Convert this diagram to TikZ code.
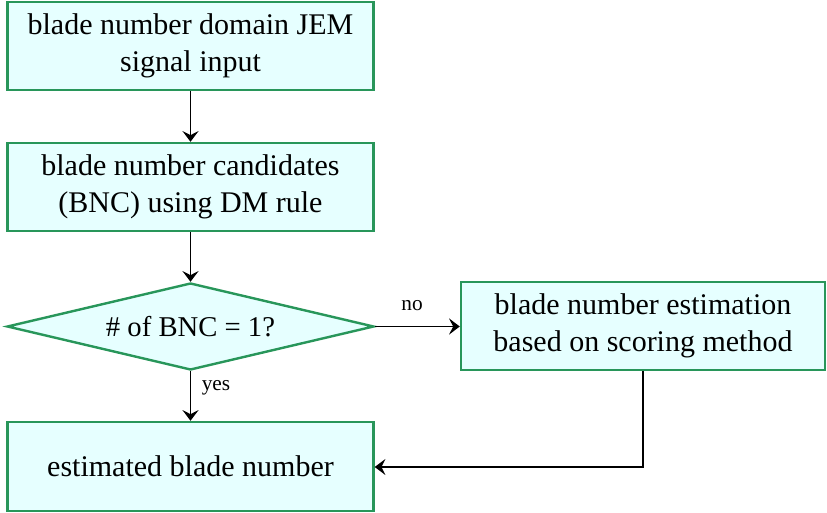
\documentclass[tikz,border=0pt]{standalone}
\usepackage{fontspec}
\setmainfont{Liberation Serif}
\usetikzlibrary{shapes.geometric,arrows.meta}
\definecolor{boxgreen}{RGB}{40,150,90}
\definecolor{boxfill}{RGB}{230,255,255}
\tikzset{
  stepbox/.style={draw=boxgreen, line width=1.8pt, fill=boxfill, rectangle, inner sep=0pt,
    minimum width=366*0.75pt, minimum height=88*0.75pt, align=center,
    font=\fontsize{22.5}{27.75}\selectfont},
  decbox/.style={draw=boxgreen, line width=1.8pt, fill=boxfill, diamond, aspect=4.2, inner sep=0pt,
    minimum width=367*0.75pt, minimum height=87*0.75pt, align=center,
    font=\fontsize{21.5}{27.75}\selectfont},
  conn/.style={draw=black, line width=1.1pt, -{Stealth[length=8pt,width=12pt,inset=3pt]}},
  lbl/.style={font=\fontsize{16}{18}\selectfont, inner sep=0pt}
}
\begin{document}
\begin{tikzpicture}[x=0.75pt,y=-0.75pt]
\useasboundingbox (0,0) rectangle (827,513);
\node[stepbox] (b1) at (190.5,46) {blade number domain JEM\\signal input};
\node[stepbox] (b2) at (190.5,187) {blade number candidates\\(BNC) using DM rule};
\node[decbox] (d) at (190.5,326.5) {\# of BNC = 1?};
\node[stepbox, minimum width=364*0.75pt] (b3) at (643,326) {blade number estimation\\based on scoring method};
\node[stepbox, minimum height=89*0.75pt] (b4) at (190.5,466.5) {estimated blade number};
\coordinate (bend) at (b3.south |- 0,467);
\draw[conn] (b1.south) -- (b2.north);
\draw[conn] (b2.south) -- (d.north);
\draw[conn] (d.east) -- (b3.west |- d.east);
\draw[conn] (d.south) -- (b4.north);
\draw[conn] (b3.south) -- (bend) -- (b4.east |- bend);
\node[lbl] (no) at (412,306) {no};
\node[lbl] (yes) at (216,388) {yes};
\end{tikzpicture}
\end{document}
